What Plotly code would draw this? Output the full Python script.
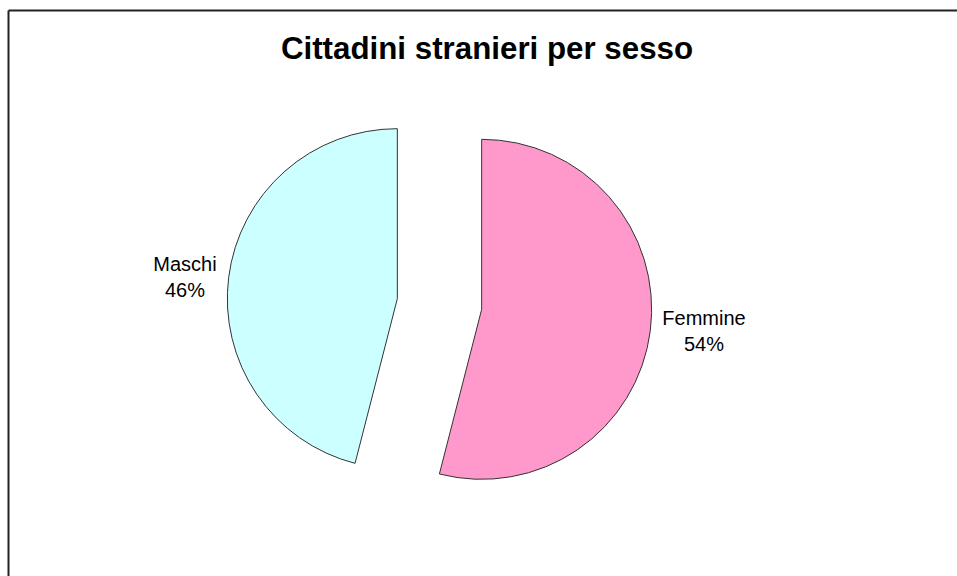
import plotly.graph_objects as go

labels = ["Femmine", "Maschi"]
values = [54, 46]
colors = ["#FF99CC", "#CCFFFF"]
title_text = "Cittadini stranieri per sesso"

W, H = 957, 576

fig = go.Figure(
    go.Pie(
        labels=labels,
        values=values,
        sort=False,
        direction="clockwise",
        rotation=0,
        pull=[0.25, 0.25],
        marker=dict(colors=colors, line=dict(color="#333333", width=1)),
        texttemplate="%{label}<br>%{percent:.0%}",
        textposition="outside",
        textfont=dict(family="Liberation Sans, Arial, sans-serif", size=20, color="#000000"),
        hoverinfo="none",
        showlegend=False,
        domain=dict(x=[227 / W, 652 / W], y=[1 - 516.5 / H, 1 - 91.5 / H]),
    )
)

fig.update_layout(
    width=W,
    height=H,
    margin=dict(l=0, r=0, t=0, b=0),
    paper_bgcolor="white",
    plot_bgcolor="white",
    title=dict(
        text="<b>" + title_text + "</b>",
        x=487 / W,
        xanchor="center",
        y=1 - 48 / H,
        yanchor="middle",
        yref="container",
        font=dict(family="Liberation Sans, Arial, sans-serif", size=31.3, color="#000000"),
    ),
    shapes=[
        dict(type="line", xref="paper", yref="paper", x0=8.5 / W, x1=1.02,
             y0=1 - 10.5 / H, y1=1 - 10.5 / H, line=dict(color="#222222", width=2)),
        dict(type="line", xref="paper", yref="paper", x0=8.5 / W, x1=8.5 / W,
             y0=1 - 10.5 / H, y1=-0.02, line=dict(color="#222222", width=2)),
    ],
)

fig.write_html(
    "out.html",
    config={"displayModeBar": False},
    post_script="document.body.style.margin='0';document.body.style.overflow='hidden';",
)
